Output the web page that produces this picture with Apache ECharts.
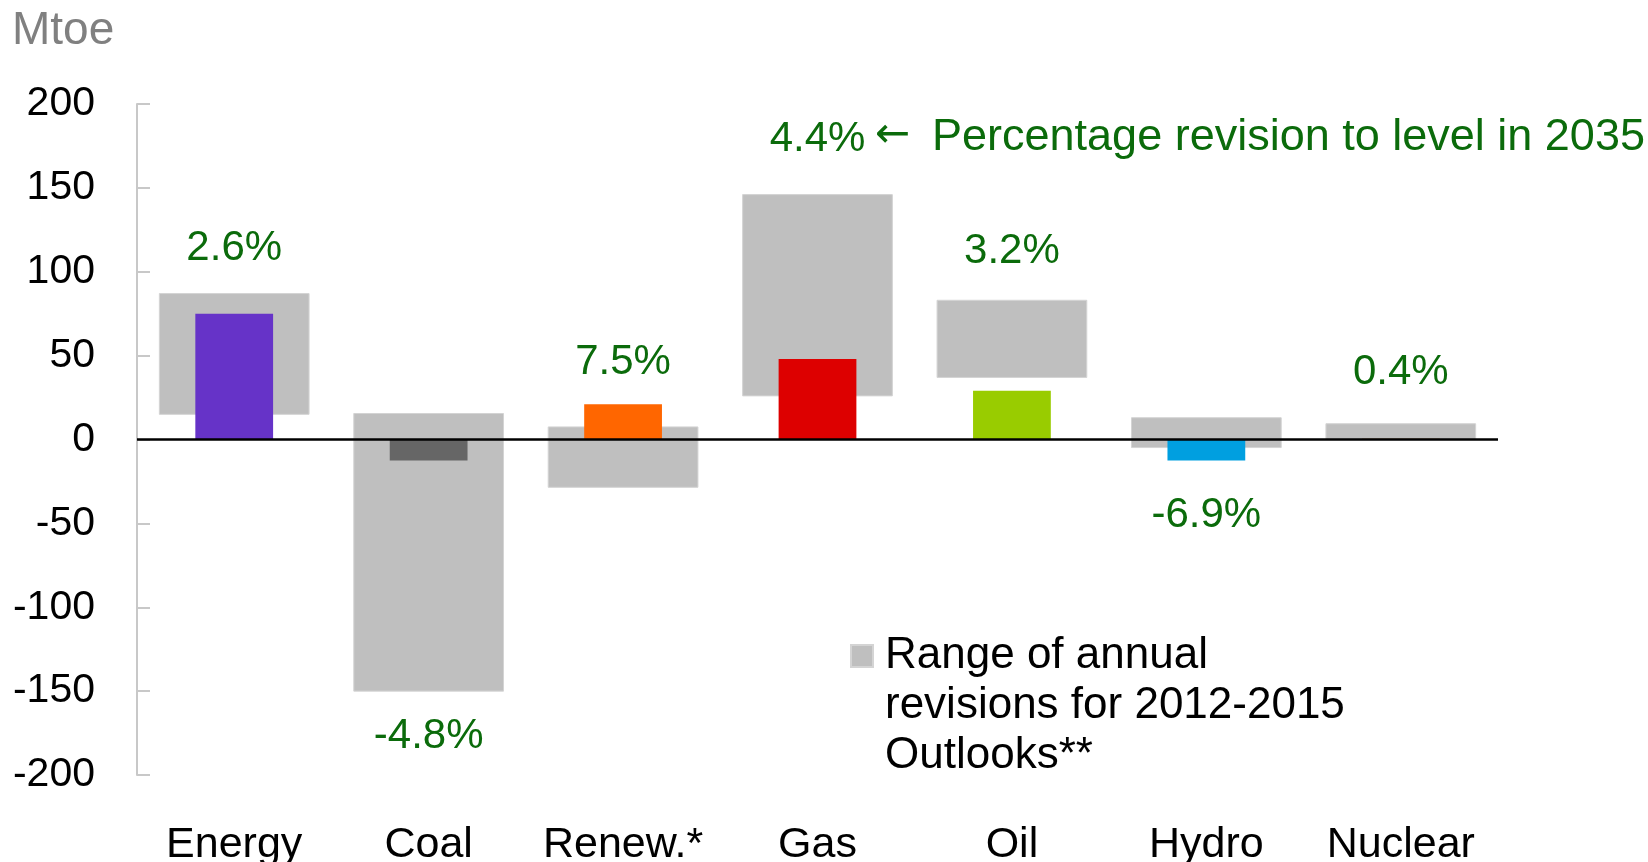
<!DOCTYPE html>
<html>
<head>
<meta charset="utf-8">
<title>Revisions to 2035 outlook</title>
<script src="https://cdn.jsdelivr.net/npm/echarts@6/dist/echarts.min.js"></script>
<style>
  html, body { margin: 0; padding: 0; background: #fff; }
  #chart { width: 1648px; height: 862px; }
</style>
</head>
<body>
<div id="chart"></div>
<script>
// categories and values (Mtoe)
const categories = ["Energy", "Coal", "Renew.*", "Gas", "Oil", "Hydro", "Nuclear"];
const revision2035 = [75, -12.5, 21, 48, 29, -12.5, 0.4];
const rangeLow = [15, -150, -28.5, 26, 37, -4.8, 0];
const rangeHigh = [87, 15.5, 7.5, 146, 83, 13, 9.4];
const pctLabels = ["2.6%", "-4.8%", "7.5%", "4.4%", "3.2%", "-6.9%", "0.4%"];
const pctLabelAt = [114, -177, 46, 179, 112, -45, 40];
const barColors = ["#6633c8", "#666666", "#ff6600", "#dd0000", "#99cc00", "#009fe0", "#b06a10"];

const rangeName = "Range of annual\nrevisions for 2012-2015\nOutlooks**";
const GREEN = "#0b6b0b";
const FONT = "Liberation Sans";

const chart = echarts.init(document.getElementById("chart"));

function renderRange(params, api) {
  const i = api.value(0);
  const lo = api.coord([i, api.value(1)]);
  const hi = api.coord([i, api.value(2)]);
  const w = api.size([1, 0])[0] * 0.77;
  return {
    type: "rect",
    shape: { x: lo[0] - w / 2, y: hi[1], width: w, height: lo[1] - hi[1] },
    style: api.style()
  };
}

const option = {
  animation: false,
  textStyle: { fontFamily: FONT },
  title: {
    text: "Mtoe",
    left: 12,
    top: 8,
    padding: 0,
    textStyle: { color: "#808080", fontSize: 46, fontWeight: "normal", fontFamily: FONT }
  },
  legend: {
    data: [{ name: rangeName, icon: "rect" }],
    // two empty lines on top keep the first text line level with the icon
    formatter: (name) => "\n\n" + name,
    left: 850,
    top: 531,
    padding: 0,
    itemWidth: 22,
    itemHeight: 22,
    selectedMode: false,
    itemStyle: { color: "#bfbfbf" },
    textStyle: {
      fontSize: 44,
      lineHeight: 50,
      color: "#000",
      fontFamily: FONT,
      padding: [0, 0, 0, 7]
    }
  },
  grid: { left: 137, right: 150, top: 104, bottom: 87, outerBoundsMode: "none" },
  xAxis: {
    type: "category",
    data: categories,
    axisLine: { show: false, onZero: false },
    axisTick: { show: false },
    axisLabel: { interval: 0, fontSize: 43, color: "#000", margin: 49, fontFamily: FONT }
  },
  yAxis: {
    type: "value",
    min: -200,
    max: 200,
    interval: 50,
    splitLine: { show: false },
    axisLine: { show: true, lineStyle: { color: "#c8c8c8", width: 2 } },
    axisTick: { show: true, inside: true, length: 13, lineStyle: { color: "#c8c8c8", width: 2 } },
    axisLabel: { fontSize: 41, color: "#000", margin: 42, fontFamily: FONT }
  },
  series: [
    {
      name: rangeName,
      type: "custom",
      renderItem: renderRange,
      itemStyle: { color: "#bfbfbf", borderColor: "#d4d4d4", borderWidth: 1 },
      encode: { x: 0, y: [1, 2] },
      data: categories.map((c, i) => [i, rangeLow[i], rangeHigh[i]]),
      z: 1
    },
    {
      name: "Revision to 2035",
      type: "bar",
      barWidth: "40%",
      data: revision2035.map((v, i) => ({ value: v, itemStyle: { color: barColors[i] } })),
      z: 3,
      markLine: {
        silent: true,
        symbol: "none",
        label: { show: false },
        lineStyle: { color: "#000", width: 2.5, type: "solid" },
        data: [{ yAxis: 0 }]
      }
    },
    {
      name: "Percentage revision",
      type: "scatter",
      symbolSize: 0,
      silent: true,
      itemStyle: { opacity: 1 },
      data: categories.map((c, i) => [i, pctLabelAt[i]]),
      label: {
        show: true,
        position: "inside",
        formatter: (p) => pctLabels[p.dataIndex],
        color: GREEN,
        opacity: 1,
        textBorderWidth: 0,
        fontSize: 42,
        fontFamily: FONT
      },
      z: 4
    }
  ],
  graphic: [
    {
      type: "text",
      x: 875,
      y: 136,
      style: {
        text: "\u2190",
        fill: GREEN,
        font: '42px "DejaVu Sans"',
        verticalAlign: "middle"
      }
    },
    {
      type: "text",
      x: 932,
      y: 138,
      style: {
        text: "Percentage revision to level in 2035",
        fill: GREEN,
        font: '45px "Liberation Sans"',
        verticalAlign: "middle"
      }
    }
  ]
};

chart.setOption(option);
</script>
</body>
</html>
